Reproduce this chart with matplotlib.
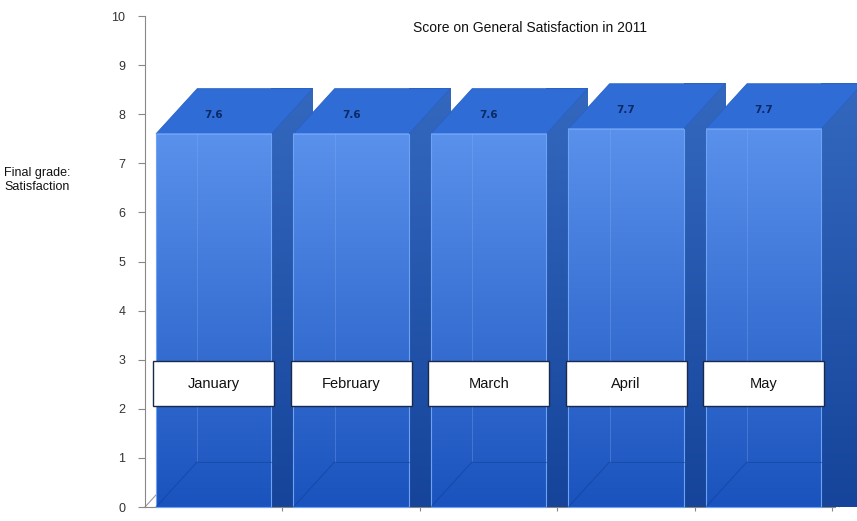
import numpy as np
import matplotlib.pyplot as plt
from matplotlib.patches import Polygon, Rectangle
from matplotlib.colors import LinearSegmentedColormap

plt.rcParams['font.family'] = ['Liberation Sans', 'DejaVu Sans']

months = ['January', 'February', 'March', 'April', 'May']
scores = [7.6, 7.6, 7.6, 7.7, 7.7]
value_labels = ['7.6', '7.6', '7.6', '7.7', '7.7']

half_w = 0.42      # half width of the front face (category units)
dx, dy = 0.30, 0.92  # depth offset of the 3d box

front_cmap = LinearSegmentedColormap.from_list('front', ['#1a53bd', '#5a91ec'])
side_cmap = LinearSegmentedColormap.from_list('side', ['#15449a', '#3468bf'])

fig = plt.figure(figsize=(8.57, 5.21), dpi=100)
ax = fig.add_axes([145 / 857, 14 / 521, 690 / 857, 491 / 521])

grad = np.linspace(0, 1, 256).reshape(-1, 1)

# floor edges
ax.plot([-0.5, -0.5 + dx], [0, dy], color='#999999', lw=0.8, zorder=1, clip_on=False)
ax.plot([4.52, 4.52 + dx], [0, dy], color='#999999', lw=0.9, zorder=1, clip_on=False)
ax.plot([4.55, 4.55 + dx], [0, dy], color='#cccccc', lw=0.9, zorder=1, clip_on=False)

for i, (m, v) in enumerate(zip(months, scores)):
    z = 2 + i * 5
    x0, x1 = i - half_w, i + half_w

    # side face
    side = Polygon([(x1, 0), (x1 + dx, dy), (x1 + dx, v + dy), (x1, v)],
                   closed=True, facecolor='none', edgecolor='none', zorder=z)
    ax.add_patch(side)
    im = ax.imshow(grad, cmap=side_cmap, origin='lower', aspect='auto',
                   extent=[x1, x1 + dx, 0, v + dy], zorder=z, clip_on=False)
    im.set_clip_path(side)

    # top face
    ax.add_patch(Polygon([(x0, v), (x0 + dx, v + dy), (x1 + dx, v + dy), (x1, v)],
                         closed=True, facecolor='#2f6cd6', edgecolor='#2a62c4',
                         lw=0.6, zorder=z + 1, clip_on=False))

    # front face with gradient
    ax.imshow(grad, cmap=front_cmap, origin='lower', aspect='auto',
              extent=[x0, x1, 0, v], zorder=z + 2, clip_on=False)
    ax.add_patch(Rectangle((x0, 0), 2 * half_w, v, facecolor='none',
                           edgecolor='#6ea2f2', lw=0.8, zorder=z + 3, clip_on=False))

    # inner edges seen through the glassy bar
    ax.plot([x0 + dx, x0 + dx], [dy, v], color='#8ab4f5', lw=0.6, alpha=0.35, zorder=z + 3)
    ax.plot([x0 + dx, x1], [dy, dy], color='#0f3f9a', lw=0.8, alpha=0.5, zorder=z + 3)
    ax.plot([x0, x0 + dx], [0, dy], color='#0f3f9a', lw=0.8, alpha=0.5, zorder=z + 3)

    # value label on the top face
    ax.text(i, v + 0.38, value_labels[i], ha='center', va='center', fontsize=7.5,
            fontweight='bold', color='#0b2a66', family='DejaVu Sans', zorder=z + 4)

    # month label box
    ax.add_patch(Rectangle((i - 0.44, 2.05), 0.88, 0.92, facecolor='white',
                           edgecolor='#1a2a4a', lw=1.0, zorder=z + 4, clip_on=False))
    ax.text(i, 2.51, m, ha='center', va='center', fontsize=10.5, color='#111111',
            zorder=z + 5)

ax.set_xlim(-0.5, 4.52)
ax.set_ylim(0, 10)
ax.set_yticks(range(0, 11))
ax.set_xticks([0.5, 1.5, 2.5, 3.5, 4.5])
ax.set_xticklabels([])
ax.tick_params(axis='y', labelsize=9, colors='#888888', labelcolor='#333333',
               length=5, pad=9)
ax.tick_params(axis='x', colors='#888888', length=3)
for s in ['top', 'right']:
    ax.spines[s].set_visible(False)
ax.spines['left'].set_color('#888888')
ax.spines['bottom'].set_color('#888888')

fig.text(530 / 857, 1 - 28 / 521, 'Score on General Satisfaction in 2011',
         ha='center', va='center', fontsize=10, color='#111111')
fig.text(4 / 857, 1 - 180 / 521, 'Final grade:\nSatisfaction', ha='left',
         va='center', fontsize=9, color='#111111', linespacing=1.2)

fig.savefig('out.png', dpi=100)
